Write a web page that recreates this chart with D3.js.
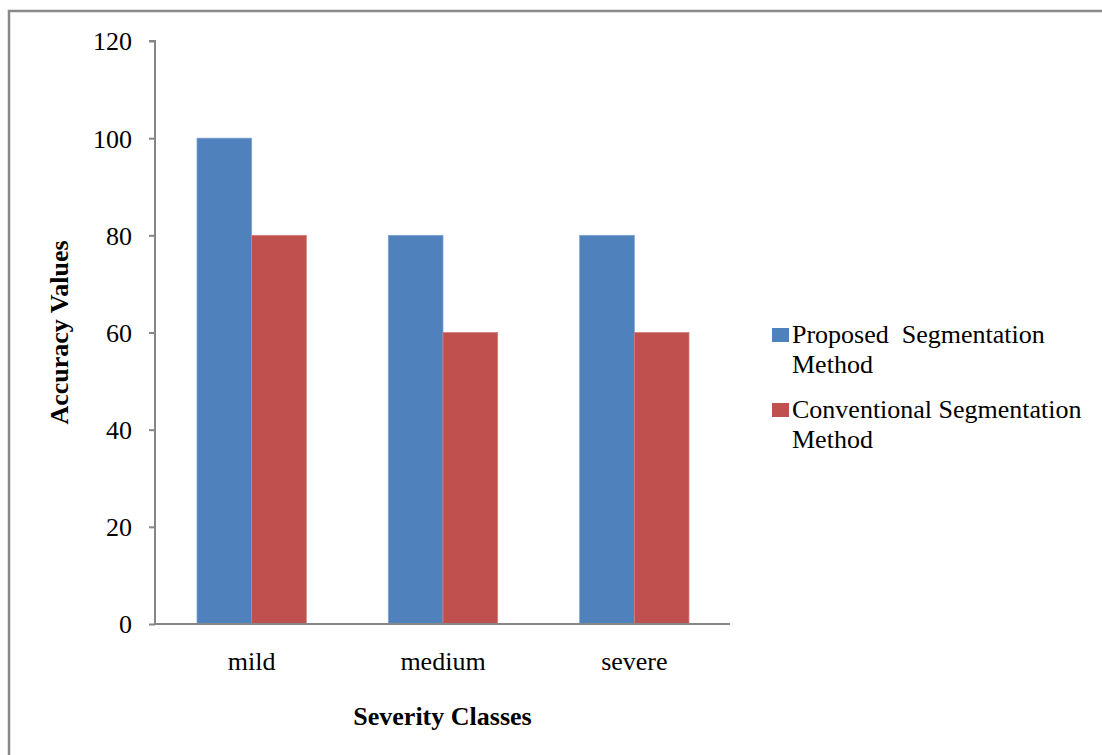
<!DOCTYPE html>
<html>
<head>
<meta charset="utf-8">
<script src="https://cdn.jsdelivr.net/npm/d3@7"></script>
<style>
  html, body { margin: 0; padding: 0; background: #fff; }
  svg text { font-family: "Liberation Serif", "Times New Roman", serif; fill: #000; white-space: pre; }
</style>
</head>
<body>
<svg id="chart" width="1102" height="755"></svg>
<script>
// Accuracy per severity class for the two segmentation methods
const categories = ["mild", "medium", "severe"];
const seriesNames = ["Proposed  Segmentation Method", "Conventional Segmentation Method"];
const proposed = [100, 80, 80];
const conventional = [80, 60, 60];
const yTicks = [0, 20, 40, 60, 80, 100, 120];
const colors = ["#4F81BD", "#C0504D"];
const legendLines = [["Proposed  Segmentation", "Method"], ["Conventional Segmentation", "Method"]];

const FONT = "Liberation Serif";
const FS = 26;

const svg = d3.select("#chart");

// outer frame (right and bottom edges fall outside the view)
svg.append("path")
  .attr("d", "M9,755 V11 H1102")
  .attr("fill", "none")
  .attr("stroke", "#898989")
  .attr("stroke-width", 2.5);

const plot = { left: 155, right: 730, top: 41, bottom: 624 };

const x = d3.scaleBand().domain(categories).range([plot.left + 1, plot.right]);
const xInner = d3.scaleBand().domain([0, 1]).range([0, x.bandwidth()]).paddingOuter(0.75).paddingInner(0);
const y = d3.scaleLinear().domain([0, 120]).range([plot.bottom, plot.top]);

const series = [proposed, conventional];

// bars
series.forEach((vals, si) => {
  svg.append("g").selectAll("rect")
    .data(categories)
    .join("rect")
    .attr("x", c => x(c) + xInner(si))
    .attr("y", (c, i) => y(vals[i]))
    .attr("width", xInner.bandwidth())
    .attr("height", (c, i) => y(0) - y(vals[i]))
    .attr("fill", colors[si])
    .attr("stroke", si === 0 ? "#7FA2D3" : "#D37E7B")
    .attr("stroke-width", 0.8);
});

// y axis
const yAxis = svg.append("g")
  .attr("transform", `translate(${plot.left},0)`)
  .call(d3.axisLeft(y).tickValues(yTicks).tickSize(6).tickPadding(17).tickFormat(d3.format("d")));
yAxis.attr("font-family", FONT).attr("font-size", FS);
yAxis.select(".domain").attr("stroke", "#868686").attr("stroke-width", 2).attr("d", `M-6,${plot.top}H0V${plot.bottom}`);
yAxis.selectAll(".tick line").attr("stroke", "#868686").attr("stroke-width", 2);
yAxis.selectAll(".tick text").attr("dy", "0.34em");

// x axis
const xAxis = svg.append("g")
  .attr("transform", `translate(0,${plot.bottom})`)
  .call(d3.axisBottom(x).tickSize(0).tickPadding(28));
xAxis.attr("font-family", FONT).attr("font-size", FS);
xAxis.select(".domain").attr("stroke", "#868686").attr("stroke-width", 2).attr("d", `M${plot.left},0H${plot.right}`);

// axis titles
svg.append("text")
  .attr("x", (plot.left + plot.right) / 2)
  .attr("y", 725)
  .attr("text-anchor", "middle")
  .attr("font-size", FS)
  .attr("font-weight", "bold")
  .text("Severity Classes");

svg.append("text")
  .attr("transform", `translate(68,${(plot.top + plot.bottom) / 2}) rotate(-90)`)
  .attr("text-anchor", "middle")
  .attr("font-size", FS)
  .attr("font-weight", "bold")
  .text("Accuracy Values");

// legend
const legend = svg.append("g").attr("transform", "translate(772,0)");
seriesNames.forEach((name, i) => {
  const baseY = 343 + i * 75;
  legend.append("rect")
    .attr("x", 0).attr("y", baseY - 15)
    .attr("width", 17).attr("height", 14)
    .attr("fill", colors[i]);
  const t = legend.append("text").attr("font-size", FS).attr("xml:space", "preserve");
  legendLines[i].forEach((ln, j) => {
    t.append("tspan").attr("x", 20).attr("y", baseY + j * 30).text(ln);
  });
});
</script>
</body>
</html>
